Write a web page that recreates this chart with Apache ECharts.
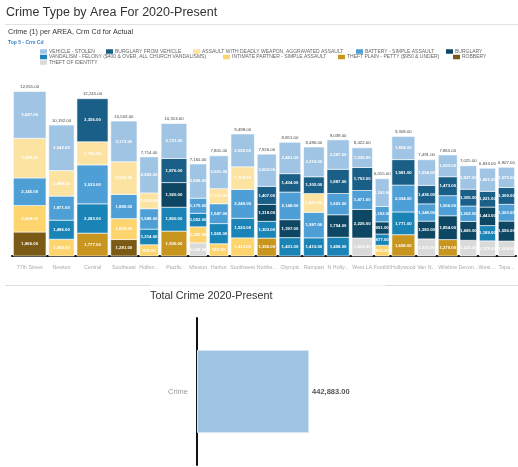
<!DOCTYPE html>
<html>
<head>
<meta charset="utf-8">
<script src="https://cdn.jsdelivr.net/npm/echarts@6/dist/echarts.min.js"></script>
<style>
html, body { margin: 0; padding: 0; background: #fff; }
#main { width: 518px; height: 467px; }
</style>
</head>
<body>
<div id="main"></div>
<script>
// areas as shown on the axis (truncated names kept as displayed)
var areas = ['77th Street', 'Newton', 'Central', 'Southeast', 'Hollen...', 'Pacific', 'Mission', 'Harbor', 'Southwest', 'Northe...', 'Olympic', 'Rampart', 'N Holly...', 'West LA', 'Foothill', 'Hollywood', 'Van N...', 'Wilshire', 'Devon...', 'West ...', 'Topa...']

// crime types in legend order (top of stack first)
var crimeTypes = [
  'VEHICLE - STOLEN',
  'BURGLARY FROM VEHICLE',
  'ASSAULT WITH DEADLY WEAPON, AGGRAVATED ASSAULT',
  'BATTERY - SIMPLE ASSAULT',
  'BURGLARY',
  'VANDALISM - FELONY ($400 & OVER, ALL CHURCH VANDALISMS)',
  'INTIMATE PARTNER - SIMPLE ASSAULT',
  'THEFT PLAIN - PETTY ($950 & UNDER)',
  'ROBBERY',
  'THEFT OF IDENTITY'
]

var vehicleStolen = [3647, 3542, null, 3172, 2805, 2721, 2666, 2561, 2555, 2503, 2441, 2318, 2287, 1530, 2163, 1804, 1994, 1693, 1827, 1801, 1575]
var burglaryFromVehicle = [null, null, 3356, null, null, 1876, null, null, null, 1407, 1434, 1305, 1887, 1793, null, 1981, 1436, 1473, 1305, 1221, 1309]
var assaultDeadly = [3085, 1988, 1796, 2536, 1229, null, null, 1171, 1758, null, null, 1461, null, null, null, null, null, null, null, null, null]
var batterySimple = [2145, 1871, 3033, 1885, 1588, null, 1175, 1547, 2249, null, 2148, 1987, 1653, 1471, 1192, 2094, 1348, 1566, 1202, null, 1303]
var burglary = [null, null, null, null, null, 1920, null, null, null, 1318, 1397, null, 1754, 2226, 951, null, 1383, 1854, 1469, 1443, 1556]
var vandalism = [null, 1486, 2283, null, 1214, 1860, 1052, 1565, 1523, 1303, 1431, 1415, 1458, null, 877, 1771, null, null, null, 1189, null]
var intimatePartner = [2068, 1305, null, 1629, 878, null, 1250, 957, 1413, null, null, null, null, null, 832, null, null, null, null, null, null]
var theftPlain = [null, null, 1777, null, null, 1936, null, null, null, 1395, null, null, null, null, null, 1658, null, 1279, null, null, null]
var robbery = [1866, null, null, 1281, null, null, null, null, null, null, null, null, null, null, null, null, null, null, null, null, null]
var theftIdentity = [null, null, null, null, null, null, 1022, null, null, null, null, null, null, 1402, null, null, 1330, null, 1222, 1179, 1164]

var totalCategory = ['Crime']
var totalCrime = [442883]

var typeValues = [vehicleStolen, burglaryFromVehicle, assaultDeadly, batterySimple, burglary, vandalism, intimatePartner, theftPlain, robbery, theftIdentity]
var typeColors = ['#a0c4e4', '#1a5f87', '#fde3a2', '#4d9fd6', '#0e4763', '#1b84b7', '#fdd46e', '#c8951f', '#7b5a15', '#dadada']

function fmt (v) {
  return v.toFixed(2).replace(/\B(?=(\d{3})+(?!\d))/g, ',')
}

// totals and x extents (bar width follows the area total)
var totals = areas.map(function (a, i) {
  var s = 0
  typeValues.forEach(function (arr) { s += arr[i] || 0 })
  return s
})
var xStart = []
var running = 0
totals.forEach(function (t) { xStart.push(running); running += t })
var xSum = running

// stacking from bottom: reverse legend order
var base = areas.map(function () { return 0 })
var segSeries = []
for (var k = crimeTypes.length - 1; k >= 0; k--) {
  var data = []
  typeValues[k].forEach(function (v, i) {
    if (v == null) return
    data.push([xStart[i], xStart[i] + totals[i], base[i], base[i] + v, v])
    base[i] += v
  })
  segSeries.push({
    name: crimeTypes[k],
    type: 'custom',
    xAxisIndex: 0,
    yAxisIndex: 0,
    itemStyle: { color: typeColors[k] },
    encode: { x: [0, 1], y: [2, 3] },
    data: data,
    renderItem: function (params, api) {
      var p0 = api.coord([api.value(0), api.value(2)])
      var p1 = api.coord([api.value(1), api.value(3)])
      return {
        type: 'rect',
        shape: { x: p0[0] + 1.4, y: p1[1], width: p1[0] - p0[0] - 2.8, height: p0[1] - p1[1] },
        style: { fill: api.visual('color'), stroke: '#fff', lineWidth: 0.6 },
        textContent: {
          style: { text: fmt(api.value(4)), fill: '#fff', fontSize: 4.3, fontWeight: 'bold' }
        },
        textConfig: { position: 'inside' }
      }
    }
  })
}

var labelData = areas.map(function (a, i) { return [xStart[i], xStart[i] + totals[i], totals[i], i] })

var legends = []
var legendPos = [
  [40, 49], [106, 49], [193, 49], [356, 49], [446, 49],
  [40, 54.5], [223, 54.5], [338, 54.5], [453, 54.5],
  [40, 60]
]
crimeTypes.forEach(function (name, k) {
  legends.push({
    data: [name],
    left: legendPos[k][0],
    top: legendPos[k][1],
    padding: 0,
    icon: 'rect',
    itemWidth: 7,
    itemHeight: 4.5,
    selectedMode: false,
    textStyle: { fontSize: 5, color: '#666', padding: [0, 0, 0, -3] }
  })
})

var chart = echarts.init(document.getElementById('main'))
chart.setOption({
  animation: false,
  textStyle: { fontFamily: 'Liberation Sans, Arial, sans-serif' },
  title: [
    { text: 'Crime Type by Area For 2020-Present', left: 6, top: 6, padding: 0, textStyle: { fontSize: 12.5, fontWeight: 'normal', color: '#333' } },
    { text: 'Crime (1) per AREA, Crm Cd for Actual', left: 8, top: 29, padding: 0, textStyle: { fontSize: 7.2, fontWeight: 'normal', color: '#333' } },
    { text: 'Top 5 - Crm Cd', left: 8, top: 40, padding: 0, textStyle: { fontSize: 5, fontWeight: 'bold', color: '#3b7fc4' } },
    { text: 'Total Crime 2020-Present', left: 150, top: 291, padding: 0, textStyle: { fontSize: 10.8, fontWeight: 'normal', color: '#333' } }
  ],
  legend: legends,
  graphic: [
    { type: 'line', shape: { x1: 5, y1: 24.5, x2: 518, y2: 24.5 }, style: { stroke: '#e3e3e3', lineWidth: 1 } },
    { type: 'line', shape: { x1: 5, y1: 285.5, x2: 150, y2: 285.5 }, style: { stroke: '#dcdcdc', lineWidth: 1 } },
    { type: 'line', shape: { x1: 150, y1: 285.5, x2: 385, y2: 285.5 }, style: { stroke: '#f3f3f3', lineWidth: 1 } },
    { type: 'line', shape: { x1: 385, y1: 285.5, x2: 518, y2: 285.5 }, style: { stroke: '#dcdcdc', lineWidth: 1 } }
  ],
  grid: [
    { left: 12, right: 2, top: 80, bottom: 211 },
    { left: 197, right: 68, top: 318, bottom: 2 }
  ],
  xAxis: [
    {
      type: 'value', gridIndex: 0, min: 0, max: xSum,
      axisLine: { show: true, lineStyle: { color: '#111', width: 2 } },
      axisTick: { show: false }, axisLabel: { show: false }, splitLine: { show: false }
    },
    {
      type: 'value', gridIndex: 1, min: 0, max: 1000000, show: false
    }
  ],
  yAxis: [
    { type: 'value', gridIndex: 0, min: 0, max: 13700, show: false },
    {
      type: 'category', gridIndex: 1, data: totalCategory,
      axisLine: { show: true, lineStyle: { color: '#111', width: 2 } },
      axisTick: { show: false },
      axisLabel: { color: '#999', fontSize: 7.5, margin: 9 }
    }
  ],
  series: segSeries.concat([
    {
      name: 'labels',
      type: 'custom',
      xAxisIndex: 0,
      yAxisIndex: 0,
      silent: true,
      encode: { x: [0, 1], y: 2 },
      data: labelData,
      renderItem: function (params, api) {
        var c = (api.value(0) + api.value(1)) / 2
        var top = api.coord([c, api.value(2)])
        var bottom = api.coord([c, 0])
        return {
          type: 'group',
          children: [
            { type: 'text', x: top[0], y: top[1] - 2.5, style: { text: fmt(api.value(2)), fill: '#444', fontSize: 4.3, align: 'center', verticalAlign: 'bottom' } },
            { type: 'text', x: bottom[0], y: bottom[1] + 12, style: { text: areas[api.value(3)], fill: '#aaa', fontSize: 5.3, align: 'center', verticalAlign: 'middle' } }
          ]
        }
      }
    },
    {
      name: 'Total Crime',
      type: 'bar',
      xAxisIndex: 1,
      yAxisIndex: 1,
      barWidth: 83,
      data: totalCrime,
      itemStyle: { color: '#a0c4e4', borderColor: '#d4e5f3', borderWidth: 1 },
      label: {
        show: true, position: 'right', distance: 3,
        formatter: function (p) { return fmt(p.value) },
        fontSize: 7.5, fontWeight: 'bold', color: '#555'
      }
    }
  ])
})
</script>
</body>
</html>
